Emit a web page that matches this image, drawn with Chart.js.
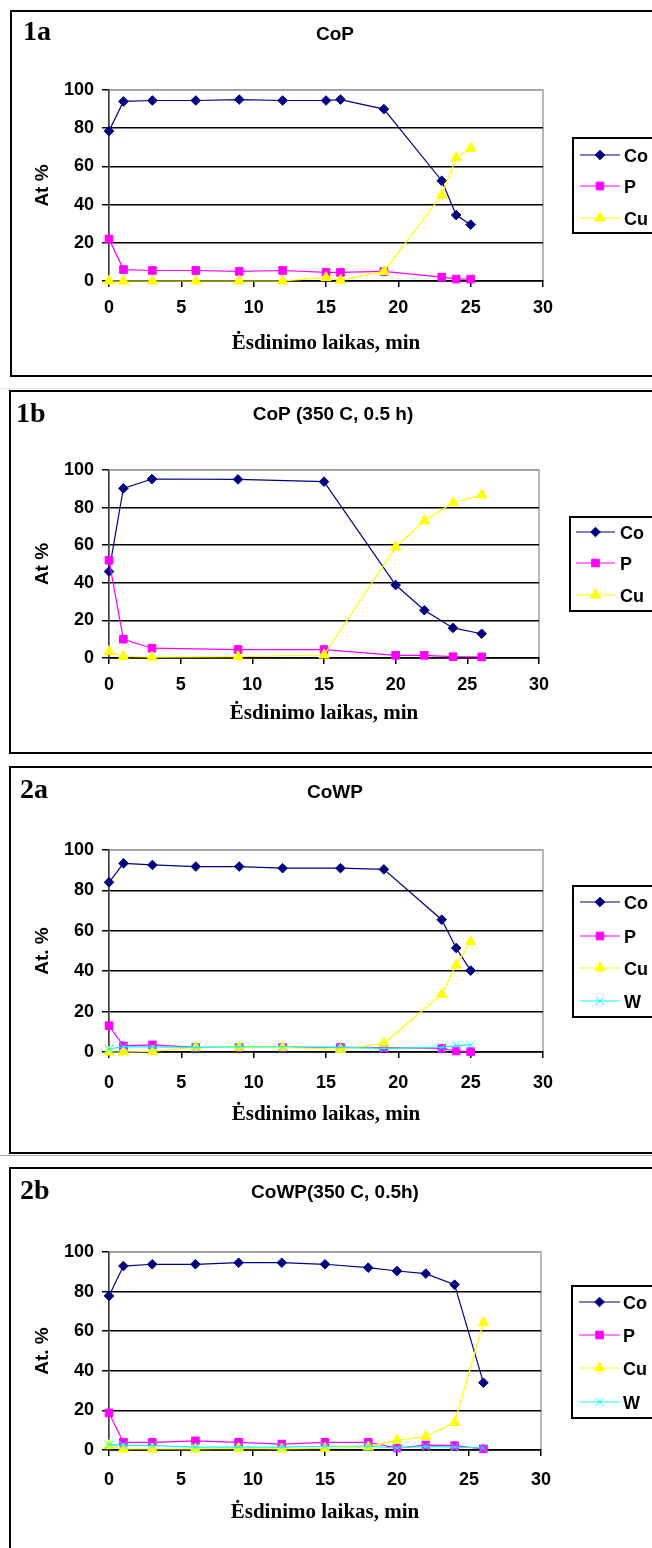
<!DOCTYPE html>
<html>
<head>
<meta charset="utf-8">
<script src="https://cdn.jsdelivr.net/npm/chart.js@4.4.1/dist/chart.umd.min.js"></script>
<style>
  html, body { margin: 0; padding: 0; background: #fff; }
  body { width: 652px; height: 1548px; position: relative; overflow: hidden; }
  .frame { position: absolute; border: 2px solid #000; box-sizing: border-box; width: 720px; }
  .sep { position: absolute; left: 0; width: 652px; height: 1px; }
  canvas { position: absolute; left: 0; }
</style>
</head>
<body>
<div class="sep" style="top:388px;background:#e4e4e4"></div>
<div class="sep" style="top:1155px;background:#aaa"></div>
<script>
// 1a - CoP
const time1a = [0, 1, 3, 6, 9, 12, 15, 16, 19, 23, 24, 25];
const co1a = [78.5, 94, 94.5, 94.5, 95, 94.5, 94.5, 95, 90, 52.5, 34.5, 29.5];
const p1a = [22, 6, 5.5, 5.5, 5, 5.5, 4.5, 4.5, 5, 2, 1, 1];
const cu1a = [0, 0, 0, 0, 0, 0, 1.8, 0.4, 5, 45, 64.5, 69.5];

// 1b - CoP (350 C, 0.5 h)
const time1b = [0, 1, 3, 9, 15, 20, 22, 24, 26];
const co1b = [46, 90.2, 95.2, 95, 93.8, 38.8, 25.4, 16, 12.9];
const p1b = [52, 10, 5.2, 4.5, 4.5, 1.4, 1.4, 0.7, 0.6];
const cu1b = [3.4, 0.8, 0.4, 0.7, 1.6, 59, 73, 82.6, 86.7];

// 2a - CoWP
const time2a = [0, 1, 3, 6, 9, 12, 16, 19, 23, 24, 25];
const co2a = [84, 93.4, 92.6, 91.8, 91.8, 91, 91, 90.4, 65.5, 51.5, 40.3];
const p2a = [13, 3, 3.5, 2.3, 2.3, 2.3, 2.3, 2.2, 1.8, 0.5, 0.2];
const cu2a = [0, 0, 0.3, 2.3, 2.3, 2.3, 1.3, 4.3, 28.6, 43, 54.6];
const w2a = [1.5, 2.6, 2.5, 2.3, 2.6, 2.6, 2.3, 1.8, 2.3, 3.2, 3.5];

// 2b - CoWP(350 C, 0.5h)
const time2b = [0, 1, 3, 6, 9, 12, 15, 18, 20, 22, 24, 26];
const co2b = [77.8, 92.9, 93.8, 93.8, 94.6, 94.6, 93.8, 92.1, 90.4, 89.1, 83.5, 34];
const p2b = [18.7, 3.9, 3.9, 4.6, 3.9, 3, 3.9, 3.9, 1, 2.5, 2.2, 0.6];
const cu2b = [2.2, 0.5, 0.5, 0.5, 0.8, 0.5, 0.8, 1.5, 5, 6.8, 13.9, 64.3];
const w2b = [2.7, 2.5, 2.2, 1.5, 1.5, 1.5, 1.9, 1.9, 1, 1.8, 1.5, 1];

// Estilos de series
const seriesStyle = {
  Co: { color: "#000080", pointStyle: "rectRot", radius: 4.8, order: 3 },
  P:  { color: "#FF00FF", pointStyle: "rect", radius: 5.4, order: 2 },
  Cu: { color: "#FFFF00", pointStyle: "triangle", radius: 6, order: 1 },
  W:  { color: "#00FFFF", pointStyle: "crossRot", radius: 5.8, order: 0 }
};

const sans = '"Liberation Sans", Arial, sans-serif';
const serif = '"Liberation Serif", "Times New Roman", serif';

// Paneles (posiciones en la pagina)
const panels = [
  { label: "1a", title: "CoP", yTitle: "At %", time: time1a,
    series: [["Co", co1a], ["P", p1a], ["Cu", cu1a]],
    box: { top: 10, bottom: 377, left: 10 },
    plot: { top: 90, bottom: 281, left: 109, right: 543 },
    labelPos: [23, 40], titlePos: [335, 40],
    legend: { left: 573, top: 138, bottom: 233, rows: [155, 186, 218], line: [580, 620], textX: 624 },
    xTickPad: 10, xTitleBase: 351 },
  { label: "1b", title: "CoP (350 C, 0.5 h)", yTitle: "At %", time: time1b,
    series: [["Co", co1b], ["P", p1b], ["Cu", cu1b]],
    box: { top: 390, bottom: 754, left: 9 },
    plot: { top: 470, bottom: 658, left: 109, right: 539 },
    labelPos: [16, 422], titlePos: [333, 420],
    legend: { left: 570, top: 517, bottom: 611, rows: [532, 563, 595], line: [576, 615], textX: 620 },
    xTickPad: 10, xTitleBase: 721 },
  { label: "2a", title: "CoWP", yTitle: "At. %", time: time2a,
    series: [["Co", co2a], ["P", p2a], ["Cu", cu2a], ["W", w2a]],
    box: { top: 766, bottom: 1154, left: 9 },
    plot: { top: 850, bottom: 1052, left: 109, right: 543 },
    labelPos: [20, 798], titlePos: [335, 798],
    legend: { left: 573, top: 886, bottom: 1017, rows: [902, 936, 968, 1001], line: [580, 620], textX: 624 },
    xTickPad: 14, xTitleBase: 1122 },
  { label: "2b", title: "CoWP(350 C, 0.5h)", yTitle: "At. %", time: time2b,
    series: [["Co", co2b], ["P", p2b], ["Cu", cu2b], ["W", w2b]],
    box: { top: 1167, bottom: 1560, left: 9 },
    plot: { top: 1252, bottom: 1450, left: 109, right: 541 },
    labelPos: [20, 1199], titlePos: [335, 1198],
    legend: { left: 572, top: 1286, bottom: 1418, rows: [1302, 1335, 1368, 1402], line: [579, 620], textX: 623 },
    xTickPad: 13, xTitleBase: 1520 }
];

function drawMarker(ctx, st, x, y) {
  ctx.save();
  ctx.fillStyle = st.color;
  ctx.strokeStyle = st.color;
  ctx.lineWidth = 1;
  if (Chart.helpers && Chart.helpers.drawPoint) {
    Chart.helpers.drawPoint(ctx, { pointStyle: st.pointStyle, radius: st.radius, rotation: 0, borderWidth: 1 }, x, y);
  }
  ctx.restore();
}

// Plugin: marco gris, rotulo, titulo y leyenda
const decorPlugin = {
  id: "decor",
  beforeDraw(chart, args, opts) {
    const { ctx, chartArea } = chart;
    ctx.save();
    ctx.strokeStyle = "#a0a0a0";
    ctx.lineWidth = 1.5;
    ctx.strokeRect(chartArea.left, chartArea.top, chartArea.right - chartArea.left, chartArea.bottom - chartArea.top);
    ctx.restore();
  },
  afterDraw(chart, args, opts) {
    const p = opts.panel;
    const ctx = chart.ctx;
    const dy = p.box.top;
    ctx.save();
    ctx.fillStyle = "#000";
    ctx.textBaseline = "alphabetic";
    ctx.textAlign = "left";
    ctx.font = "bold 28px " + serif;
    ctx.fillText(p.label, p.labelPos[0], p.labelPos[1] - dy);
    ctx.textAlign = "center";
    ctx.font = "bold 19px " + sans;
    ctx.fillText(p.title, p.titlePos[0], p.titlePos[1] - dy);

    // leyenda
    const lg = p.legend;
    ctx.strokeStyle = "#000";
    ctx.lineWidth = 2;
    ctx.strokeRect(lg.left, lg.top - dy, 200, lg.bottom - lg.top);
    ctx.textAlign = "left";
    ctx.font = "bold 18px " + sans;
    chart.data.datasets.forEach((ds, i) => {
      const st = seriesStyle[ds.label];
      const y = lg.rows[i] - dy;
      ctx.strokeStyle = st.color;
      ctx.lineWidth = 1.2;
      ctx.beginPath();
      ctx.moveTo(lg.line[0], y);
      ctx.lineTo(lg.line[1], y);
      ctx.stroke();
      drawMarker(ctx, st, (lg.line[0] + lg.line[1]) / 2, y);
      ctx.fillStyle = "#000";
      ctx.fillText(ds.label, lg.textX, y + 6.5);
    });
    ctx.restore();
  }
};

function makePanel(p) {
  const frame = document.createElement("div");
  frame.className = "frame";
  frame.style.left = p.box.left + "px";
  frame.style.top = p.box.top + "px";
  frame.style.height = (p.box.bottom - p.box.top) + "px";
  document.body.appendChild(frame);

  const canvasH = Math.min(p.box.bottom, 1548) - p.box.top;
  const canvas = document.createElement("canvas");
  canvas.width = 652;
  canvas.height = canvasH;
  canvas.style.top = p.box.top + "px";
  document.body.appendChild(canvas);

  const padLeft = 31;
  const padTop = p.plot.top - p.box.top;
  const padRight = 652 - p.plot.right;
  const xScaleBottom = p.xTitleBase - 7 + 12.6 - p.box.top;
  const padBottom = canvasH - xScaleBottom;
  const xScaleHeight = p.xTitleBase - 7 + 12.6 - p.plot.bottom;
  const yScaleWidth = p.plot.left - padLeft;

  const datasets = p.series.map(([name, values]) => {
    const st = seriesStyle[name];
    return {
      label: name,
      data: p.time.map((t, i) => ({ x: t, y: values[i] })),
      borderColor: st.color,
      backgroundColor: st.color,
      borderWidth: 1.2,
      pointStyle: st.pointStyle,
      pointRadius: st.radius,
      pointBorderWidth: 1,
      pointBackgroundColor: st.color,
      pointBorderColor: st.color,
      tension: 0,
      clip: false,
      order: st.order
    };
  });

  new Chart(canvas.getContext("2d"), {
    type: "line",
    data: { datasets },
    plugins: [decorPlugin],
    options: {
      responsive: false,
      animation: false,
      devicePixelRatio: 1,
      layout: { padding: { left: padLeft, right: padRight, top: padTop, bottom: padBottom } },
      plugins: {
        legend: { display: false },
        title: { display: false },
        tooltip: { enabled: false },
        decor: { panel: p }
      },
      scales: {
        x: {
          type: "linear",
          min: 0, max: 30,
          afterFit: s => { s.height = xScaleHeight; },
          ticks: { stepSize: 5, autoSkip: false, maxRotation: 0, minRotation: 0, padding: p.xTickPad,
                   color: "#000", font: { family: sans, size: 18, weight: "bold" } },
          grid: { drawOnChartArea: false, drawTicks: true, tickLength: 6, tickColor: "#000", lineWidth: 1.5, color: "#000" },
          border: { display: true, color: "#000", width: 1.5 },
          title: { display: true, text: "Ėsdinimo laikas, min", color: "#000", padding: { top: 0, bottom: 0 },
                   font: { family: serif, size: 21, weight: "bold" } }
        },
        y: {
          min: 0, max: 100,
          afterFit: s => { s.width = yScaleWidth; },
          ticks: { stepSize: 20, padding: 8, color: "#000", font: { family: sans, size: 18, weight: "bold" } },
          grid: {
            drawTicks: true, tickLength: 7, tickColor: "#000", lineWidth: 1.5,
            color: c => (c.tick && c.tick.value === 100 ? "#a0a0a0" : "#000")
          },
          border: { display: true, color: "#404040", width: 1.5 },
          title: { display: true, text: p.yTitle, color: "#000", padding: { top: 0, bottom: 0 },
                   font: { family: sans, size: 19, weight: "bold" } }
        }
      }
    }
  });
}

panels.forEach(makePanel);
</script>
</body>
</html>
